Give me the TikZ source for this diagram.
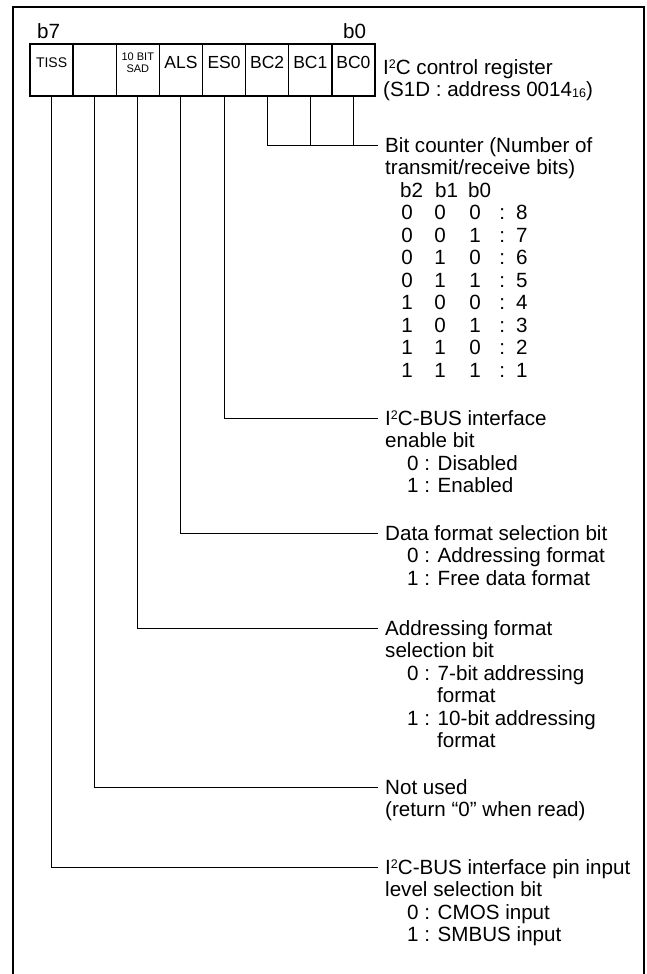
\documentclass[tikz,border=0pt]{standalone}
\usepackage{fontspec}
\setmainfont{Liberation Sans}
\newcommand{\sptwo}{\raisebox{6pt}{\fontsize{12.5}{12.5}\selectfont 2}}
\newcommand{\subsix}{\raisebox{-0.5pt}{\fontsize{12.5}{12.5}\selectfont 16}}
\newcommand{\bcrow}[4]{\hspace*{5pt}\makebox[34pt]{#1}\makebox[32pt]{#2}\makebox[38pt]{#3}\makebox[16pt]{:}\hspace*{6pt}#4}
\newcommand{\ind}{\hspace*{22pt}}
\begin{document}
\begin{tikzpicture}[x=1pt,y=-1pt,
  cell/.style={draw,line width=1.3pt,minimum width=43.125pt,minimum height=52pt,inner sep=0pt},
  clabel/.style={inner sep=0pt,font=\fontsize{17.5}{17.5}\selectfont},
  conn/.style={line width=0.9pt},
  desc/.style={anchor=north west,inner sep=0pt,align=left,font=\fontsize{20.6}{22.5}\selectfont},
  bitlab/.style={anchor=base west,inner sep=0pt,font=\fontsize{20.6}{22.5}\selectfont},
  frame/.style={line width=1.6pt}]
\useasboundingbox (0,0) rectangle (647,974);
\draw[frame] (13,976) -- (13,7) -- (644,7) -- (644,976);

% register cells
\node[cell] (tiss) at (51.56,70) {};
\node[cell] (nu)   at (94.69,70) {};
\node[cell] (sad)  at (137.81,70) {};
\node[cell] (als)  at (180.94,70) {};
\node[cell] (es0)  at (224.06,70) {};
\node[cell] (bc2)  at (267.19,70) {};
\node[cell] (bc1)  at (310.31,70) {};
\node[cell] (bc0)  at (353.44,70) {};

\node[clabel,font=\fontsize{14}{14}\selectfont] (ltiss) at (51.56,63) {TISS};
\node[clabel,align=center,font=\fontsize{11}{11.5}\selectfont] (lsad) at (137.81,62.5) {10 BIT\\SAD};
\node[clabel] (lals) at (180.94,62) {ALS};
\node[clabel] (les0) at (224.06,62) {ES0};
\node[clabel] (lbc2) at (267.19,62) {BC2};
\node[clabel] (lbc1) at (310.31,62) {BC1};
\node[clabel] (lbc0) at (353.44,62) {BC0};

\node[bitlab] (b7) at (37,38) {b7};
\node[bitlab] (b0) at (343,38) {b0};

\node[desc] (title) at (383,58.5) {\strut I\sptwo C control register\\(S1D : address 0014\subsix)};

% connectors
\coordinate (bcj) at (378,145);
\draw[conn] (bc2.south) |- (bcj);
\draw[conn] (bc1.south) -- (bc1.south |- bcj);
\draw[conn] (bc0.south) -- (bc0.south |- bcj);
\coordinate (ej) at (378,418);
\draw[conn] (es0.south) |- (ej);
\coordinate (aj) at (378,533);
\draw[conn] (als.south) |- (aj);
\coordinate (sj) at (378,628);
\draw[conn] (sad.south) |- (sj);
\coordinate (nj) at (378,787);
\draw[conn] (nu.south) |- (nj);
\coordinate (tj) at (378,867);
\draw[conn] (tiss.south) |- (tj);

% descriptions
\node[desc] (bct) at (385,136.5) {\strut Bit counter (Number of\\
transmit/receive bits)\\
\hspace*{15pt}\makebox[35pt][l]{b2}\makebox[33pt][l]{b1}b0\\
\bcrow{0}{0}{0}{8}\\
\bcrow{0}{0}{1}{7}\\
\bcrow{0}{1}{0}{6}\\
\bcrow{0}{1}{1}{5}\\
\bcrow{1}{0}{0}{4}\\
\bcrow{1}{0}{1}{3}\\
\bcrow{1}{1}{0}{2}\\
\bcrow{1}{1}{1}{1}};

\node[desc] (est) at (385,409.5) {\strut I\sptwo C-BUS interface\\
enable bit\\
\ind 0 : Disabled\\
\ind 1 : Enabled};

\node[desc] (alst) at (385,524.5) {\strut Data format selection bit\\
\ind 0 : Addressing format\\
\ind 1 : Free data format};

\node[desc] (sadt) at (385,619.5) {\strut Addressing format\\
selection bit\\
\ind 0 : 7-bit addressing\\
\hspace*{52pt}format\\
\ind 1 : 10-bit addressing\\
\hspace*{52pt}format};

\node[desc] (nut) at (385,778.5) {\strut Not used\\
(return “0” when read)};

\node[desc] (tisst) at (385,858.5) {\strut I\sptwo C-BUS interface pin input\\
level selection bit\\
\ind 0 : CMOS input\\
\ind 1 : SMBUS input};
\end{tikzpicture}
\end{document}
